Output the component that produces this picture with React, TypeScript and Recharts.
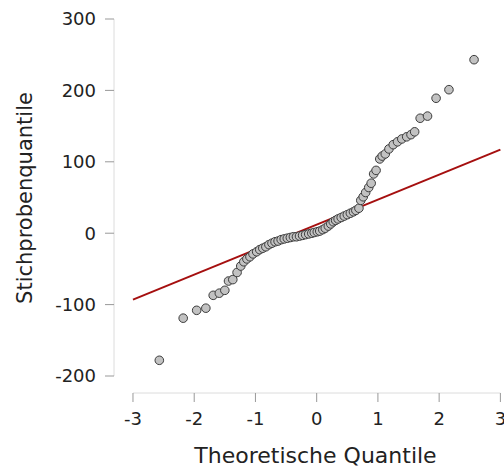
import React from 'react'
import { ReferenceLine, Scatter, ScatterChart, XAxis, YAxis } from 'recharts'

// theoretical quantiles
const theoretical = [
  -2.57, -2.18, -1.96, -1.81, -1.69, -1.59, -1.5, -1.44, -1.37, -1.3,
  -1.24, -1.19, -1.14, -1.09, -1.04, -0.98, -0.93, -0.88, -0.83, -0.78,
  -0.73, -0.68, -0.63, -0.58, -0.53, -0.48, -0.43, -0.38, -0.33, -0.28,
  -0.23, -0.18, -0.13, -0.08, -0.04, 0.01, 0.05, 0.1, 0.14, 0.19,
  0.23, 0.27, 0.31, 0.35, 0.4, 0.45, 0.5, 0.55, 0.6, 0.64,
  0.69, 0.72, 0.76, 0.8, 0.85, 0.89, 0.93, 0.97, 1.03, 1.07,
  1.12, 1.18, 1.25, 1.32, 1.39, 1.47, 1.54, 1.6, 1.69, 1.81,
  1.95, 2.16, 2.57,
]

// sample quantiles
const sample = [
  -178, -119, -108, -105, -87, -84, -80, -67, -65, -55,
  -46, -40, -36, -33, -29, -26, -23, -21, -19, -16,
  -14, -12, -11, -9, -8, -7, -6, -5, -5, -4,
  -3, -2, -1, 0, 1, 2, 3, 5, 7, 10,
  13, 16, 18, 20, 22, 24, 26, 28, 30, 32,
  35, 46, 51, 57, 64, 70, 83, 88, 104, 108,
  111, 118, 124, 128, 132, 135, 138, 142, 161, 164,
  189, 201, 243,
]

// qq line end points
const lineX = [-3, 3]
const lineY = [-93, 117]

const xTicks = [-3, -2, -1, 0, 1, 2, 3]
const yTicks = [-200, -100, 0, 100, 200, 300]

const points = theoretical.map((q, i) => ({ q, v: sample[i] }))
const fitLine = lineX.map((q, i) => ({ q, v: lineY[i] }))

const font = 'DejaVu Sans'

const Dot = (props: any) => (
  <circle cx={props.cx} cy={props.cy} r={4.3} fill="#c2c2c2" stroke="#3c3c3c" strokeWidth={1} />
)

const App = () => {
  return (
    <div style={{ position: 'absolute', left: 0, top: 0 }}>
      <ScatterChart width={504} height={470} margin={{ top: 19, right: 3, bottom: 0, left: 0 }}>
        <XAxis
          type="number"
          dataKey="q"
          domain={[-3.31, 3.01]}
          ticks={xTicks}
          interval={0}
          axisLine={false}
          tickSize={9}
          tickMargin={10}
          height={77}
          tickLine={{ stroke: '#999' }}
          tick={{ fill: '#222', fontSize: 18, fontFamily: font }}
          label={{
            content: ({ viewBox }: any) => (
              <text
                x={viewBox.x + viewBox.width / 2 + 8}
                y={463}
                textAnchor="middle"
                fill="#222"
                fontSize={22}
                fontFamily={font}
              >
                Theoretische Quantile
              </text>
            ),
          }}
        />
        <YAxis
          type="number"
          dataKey="v"
          domain={[-223.8, 300]}
          ticks={yTicks}
          interval={0}
          axisLine={false}
          width={114}
          tickSize={9}
          tickMargin={9}
          tickLine={{ stroke: '#999' }}
          tick={{ fill: '#222', fontSize: 18, fontFamily: font }}
          label={{
            content: () => (
              <text
                x={32}
                y={198}
                transform="rotate(-90, 32, 198)"
                textAnchor="middle"
                fill="#222"
                fontSize={21}
                fontFamily={font}
              >
                Stichprobenquantile
              </text>
            ),
          }}
        />
        <ReferenceLine segment={[{ x: -3.31, y: -200 }, { x: -3.31, y: 300 }]} stroke="#dcdcdc" />
        <ReferenceLine segment={[{ x: -3, y: -223.8 }, { x: 3, y: -223.8 }]} stroke="#dcdcdc" />
        <Scatter
          data={fitLine}
          line={{ stroke: '#a50f0f', strokeWidth: 2 }}
          shape={() => null}
          isAnimationActive={false}
        />
        <Scatter data={points} shape={Dot} isAnimationActive={false} />
      </ScatterChart>
    </div>
  )
}

export default App
